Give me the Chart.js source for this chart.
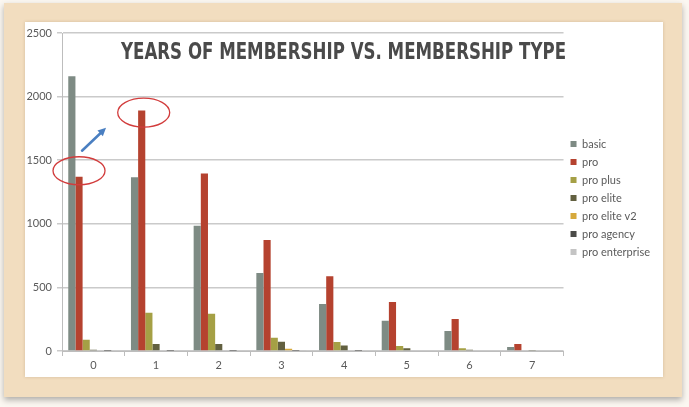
<!DOCTYPE html>
<html>
<head>
<meta charset="utf-8">
<script src="https://cdn.jsdelivr.net/npm/chart.js@4.4.1/dist/chart.umd.min.js"></script>
<style>
  html, body { margin: 0; padding: 0; background: #ffffff; }
  #wrap { width: 689px; height: 407px; position: relative; }
</style>
</head>
<body>
<div id="wrap"><canvas id="memberChart"></canvas></div>
<script>
// Data
const years = ['0', '1', '2', '3', '4', '5', '6', '7'];
const basic = [2160, 1365, 985, 613, 369, 238, 157, 31];
const pro = [1370, 1890, 1395, 872, 587, 385, 251, 55];
const proPlus = [88, 300, 293, 105, 71, 39, 21, 5];
const proElite = [10, 55, 55, 73, 44, 21, 10, 3];
const proEliteV2 = [0, 0, 0, 18, 0, 0, 0, 0];
const proAgency = [1, 1, 1, 2, 1, 0, 0, 0];
const proEnterprise = [0, 0, 0, 1, 0, 0, 0, 0];
const yTicks = [0, 500, 1000, 1500, 2000, 2500];
const chartTitle = 'YEARS OF MEMBERSHIP VS. MEMBERSHIP TYPE';

const textColor = '#5a5a5a';
const gridColor = '#cacaca';

// parchment frame + white card behind the chart
const backdrop = {
  id: 'backdrop',
  beforeDraw(chart) {
    const c = chart.ctx;
    c.save();
    c.fillStyle = '#fbf7f1';
    c.fillRect(0, 0, chart.width, chart.height);
    c.shadowColor = 'rgba(0,0,0,0.3)';
    c.shadowBlur = 6;
    c.shadowOffsetY = 3;
    c.fillStyle = '#f2ddbf';
    c.fillRect(4, 3, 678, 394);
    c.shadowColor = 'rgba(120,90,50,0.25)';
    c.shadowBlur = 3;
    c.shadowOffsetY = 0;
    c.fillStyle = '#ffffff';
    c.fillRect(25, 22, 638, 355);
    c.restore();
  }
};

// title plus the red circles and blue arrow drawn on top
const overlay = {
  id: 'overlay',
  afterDraw(chart) {
    const c = chart.ctx;
    const area = chart.chartArea;
    c.save();
    c.fillStyle = '#4a4a4a';
    c.font = 'bold 23px "DejaVu Sans"';
    c.textAlign = 'left';
    c.textBaseline = 'middle';
    c.fillText(chartTitle, area.left + 59, 53, 445);

    const proMeta = chart.getDatasetMeta(1);
    const b0 = proMeta.data[0];
    const b1 = proMeta.data[1];
    c.strokeStyle = '#d23c3c';
    c.lineWidth = 1.3;
    c.beginPath();
    c.ellipse(b0.x, b0.y - 6, 26, 14, 0, 0, Math.PI * 2);
    c.stroke();
    c.beginPath();
    c.ellipse(b1.x + 2, b1.y + 2, 26, 14.5, 0, 0, Math.PI * 2);
    c.stroke();

    // arrow
    const x1 = b0.x + 3, y1 = b0.y - 26;
    const x2 = b0.x + 27, y2 = b0.y - 49;
    c.strokeStyle = '#4a7fc1';
    c.fillStyle = '#4a7fc1';
    c.lineWidth = 2.5;
    c.lineCap = 'round';
    c.beginPath();
    c.moveTo(x1, y1);
    c.lineTo(x2 - 4, y2 + 4);
    c.stroke();
    const ang = Math.atan2(y2 - y1, x2 - x1);
    c.beginPath();
    c.moveTo(x2, y2);
    c.lineTo(x2 - 9 * Math.cos(ang - 0.45), y2 - 9 * Math.sin(ang - 0.45));
    c.lineTo(x2 - 9 * Math.cos(ang + 0.45), y2 - 9 * Math.sin(ang + 0.45));
    c.closePath();
    c.fill();
    c.restore();
  }
};

const ctx = document.getElementById('memberChart');

new Chart(ctx, {
  type: 'bar',
  data: {
    labels: years,
    datasets: [
      { label: 'basic', data: basic, backgroundColor: '#7e8b84' },
      { label: 'pro', data: pro, backgroundColor: '#b5422f' },
      { label: 'pro plus', data: proPlus, backgroundColor: '#a5a045' },
      { label: 'pro elite', data: proElite, backgroundColor: '#626040' },
      { label: 'pro elite v2', data: proEliteV2, backgroundColor: '#d6a93c' },
      { label: 'pro agency', data: proAgency, backgroundColor: '#4b4b48' },
      { label: 'pro enterprise', data: proEnterprise, backgroundColor: '#c4c4c4' }
    ]
  },
  options: {
    responsive: true,
    maintainAspectRatio: false,
    animation: false,
    datasets: {
      bar: { categoryPercentage: 0.8, barPercentage: 1.0 }
    },
    layout: {
      padding: { left: 0, top: 33, right: 29, bottom: 26 }
    },
    plugins: {
      legend: {
        position: 'right',
        align: 'start',
        fullSize: false,
        title: {
          display: true,
          text: ' ',
          font: { family: 'Lato', size: 11 },
          padding: { top: 85.3, bottom: 0 }
        },
        labels: {
          boxWidth: 6,
          boxHeight: 6,
          padding: 7,
          color: textColor,
          font: { family: 'Lato', size: 11 }
        }
      },
      tooltip: { enabled: false }
    },
    scales: {
      x: {
        afterFit(scale) { scale.height = 30; },
        grid: {
          display: true,
          offset: true,
          drawOnChartArea: false,
          drawTicks: true,
          tickLength: 5,
          color: '#bdbdbd'
        },
        border: { color: '#bdbdbd', width: 1 },
        ticks: {
          padding: 3,
          color: textColor,
          font: { family: 'Lato', size: 11 }
        }
      },
      y: {
        min: 0,
        max: 2500,
        afterFit(scale) { scale.width = 62; },
        afterBuildTicks(scale) { scale.ticks = yTicks.map(v => ({ value: v })); },
        grid: {
          color: gridColor,
          lineWidth: 1.5,
          tickLength: 5
        },
        border: { color: '#bdbdbd', width: 1 },
        ticks: {
          padding: 5,
          color: textColor,
          font: { family: 'Lato', size: 11 },
          callback: (value) => String(value)
        }
      }
    }
  },
  plugins: [backdrop, overlay]
});
</script>
</body>
</html>
